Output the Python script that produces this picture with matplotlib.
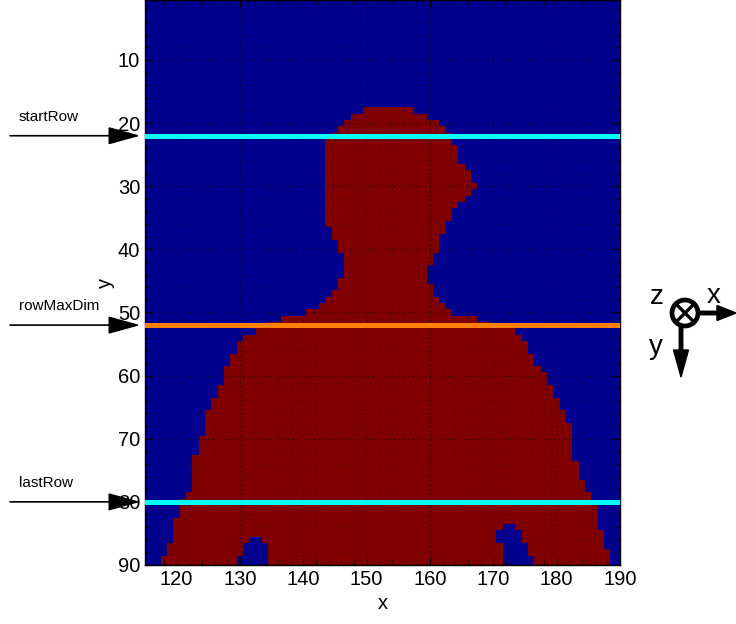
import numpy as np
import matplotlib
matplotlib.use('Agg')
import matplotlib.pyplot as plt
from matplotlib.colors import ListedColormap
from matplotlib.patches import Circle, FancyArrow
from matplotlib.patches import ArrowStyle

plt.rcParams['font.family'] = ['Liberation Sans', 'DejaVu Sans']

# ---- data: silhouette mask, per row (first red column, last red column) ----
rows = list(range(18, 91))
left_col = [150, 148, 147, 146, 145, 144, 144, 144, 144, 144,
            144, 144, 144, 144, 144, 144, 144, 144, 144, 145,
            145, 146, 146, 147, 147, 147, 147, 146, 146, 145,
            144, 143, 141, 137, 135, 133, 131, 130, 130, 129,
            129, 128, 128, 128, 127, 127, 126, 126, 125, 125,
            125, 125, 124, 124, 124, 123, 123, 123, 123, 123,
            123, 122, 121, 121, 121, 120, 120, 120, 120, 119,
            119, 118, 118]
right_col = [157, 159, 161, 162, 163, 163, 164, 164, 164, 165,
             166, 166, 167, 166, 165, 164, 163, 163, 162, 162,
             161, 161, 161, 160, 160, 159, 159, 159, 160, 160,
             161, 162, 163, 167, 169, 173, 174, 175, 175, 176,
             176, 177, 178, 178, 179, 179, 180, 180, 181, 181,
             182, 182, 182, 182, 182, 182, 183, 183, 183, 184,
             184, 185, 185, 186, 186, 186, 186, 187, 187, 187,
             188, 188, 188]
# gaps (background) inside the silhouette
hole_rows = [86, 87, 88, 89, 90, 84, 85, 86, 87, 88, 89, 90]
hole_start = [132, 131, 131, 130, 130, 172, 171, 171, 172, 172, 172, 172]
hole_end = [133, 134, 134, 134, 134, 173, 174, 174, 175, 175, 176, 176]

marker_names = ['startRow', 'rowMaxDim', 'lastRow']
marker_rows = [22, 52, 80]
marker_colors = ['#00FFFF', '#FF8000', '#00FFFF']

x_ticks = [120, 130, 140, 150, 160, 170, 180, 190]
y_ticks = [10, 20, 30, 40, 50, 60, 70, 80, 90]

# ---- build image ----
col0, col1 = 114, 191
row0, row1 = 1, 91
img = np.zeros((row1 - row0 + 1, col1 - col0 + 1))
for r, a, b in zip(rows, left_col, right_col):
    img[r - row0, a - col0:b - col0 + 1] = 1
for r, a, b in zip(hole_rows, hole_start, hole_end):
    img[r - row0, a - col0:b - col0 + 1] = 0

fig = plt.figure(figsize=(7.36, 6.24), dpi=100)
ax = fig.add_axes([145 / 736, 59 / 624, 475 / 736, 565 / 624])
cmap = ListedColormap(['#00008F', '#800000'])
ax.imshow(img, cmap=cmap, interpolation='nearest', aspect='auto',
          extent=(col0 - 0.5, col1 + 0.5, row1 + 0.5, row0 - 0.5), vmin=0, vmax=1)
ax.set_xlim(115, 190)
ax.set_ylim(90, 0.5)

for r, c in zip(marker_rows, marker_colors):
    ax.axhline(r, color=c, lw=3.6, zorder=3)

ax.set_xticks(x_ticks)
ax.set_yticks(y_ticks)
ax.set_xticks(np.arange(116, 191, 2), minor=True)
ax.set_yticks(np.arange(2, 91, 2), minor=True)
ax.tick_params(which='both', direction='in', top=True, right=True, labelsize=14.5)
ax.tick_params(which='major', length=5)
ax.tick_params(which='minor', length=3)
ax.grid(which='major', linestyle=(0, (1, 3)), color='k', linewidth=0.8, alpha=0.8)
ax.grid(which='minor', linestyle=(0, (1, 5)), color='k', linewidth=0.6, alpha=0.55)
ax.set_xlabel('x', fontsize=14.5, labelpad=4)
ax.set_ylabel('y', fontsize=14.5, labelpad=2)
for s in ax.spines.values():
    s.set_linewidth(1.0)

style = ArrowStyle('-|>', head_length=2.0, head_width=0.55)
for name, r in zip(marker_names, marker_rows):
    ax.annotate('', xy=(-0.01, r), xycoords=('axes fraction', 'data'),
                xytext=(-0.284, r), textcoords=('axes fraction', 'data'),
                arrowprops=dict(arrowstyle=style, mutation_scale=10, lw=1.2,
                                color='k', shrinkA=0, shrinkB=0),
                annotation_clip=False, zorder=5)
    ax.annotate(name, xy=(-0.266, r - 3), xycoords=('axes fraction', 'data'),
                ha='left', va='center', fontsize=11, annotation_clip=False)

# ---- coordinate system symbol (figure pixel overlay) ----
ov = fig.add_axes([0, 0, 1, 1], zorder=10)
ov.set_xlim(0, 736)
ov.set_ylim(624, 0)
ov.axis('off')
ov.patch.set_visible(False)
cx, cy, rad = 685, 313, 13
ov.add_patch(Circle((cx, cy), rad, fill=False, lw=3.4, color='k'))
d = rad * 0.7
ov.plot([cx - d, cx + d], [cy - d, cy + d], color='k', lw=2.4)
ov.plot([cx - d, cx + d], [cy + d, cy - d], color='k', lw=2.4)
ov.add_patch(FancyArrow(cx + rad, cy, 736 - cx - rad, 0, width=3.5,
                        head_width=15, head_length=19, length_includes_head=True,
                        color='k'))
ov.add_patch(FancyArrow(cx - 4, cy + rad, 0, 377 - cy - rad, width=3.5,
                        head_width=15, head_length=27, length_includes_head=True,
                        color='k'))
ov.text(657, 297, 'z', fontsize=20, ha='center', va='center')
ov.text(714, 296, 'x', fontsize=20, ha='center', va='center')
ov.text(656, 347, 'y', fontsize=20, ha='center', va='center')

fig.savefig('out.png', dpi=100)
